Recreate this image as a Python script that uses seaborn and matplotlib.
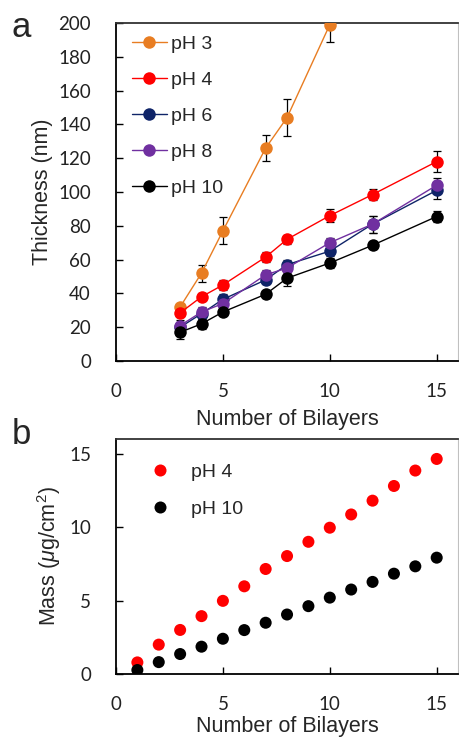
import numpy as np
import pandas as pd
import matplotlib as mpl
mpl.use("Agg")
import matplotlib.pyplot as plt
import seaborn as sns

# panel a: thickness vs bilayers
bilayers_a = [3, 4, 5, 7, 8, 10, 12, 15]
ph3 = [32, 52, 77, 126, 144, 199]
ph3_err = [2, 5, 8, 7.5, 11, 10]
ph4 = [28.5, 38, 45, 61.5, 72, 86, 98.5, 118]
ph4_err = [2, 2, 3, 3, 2.5, 4, 3.5, 6]
ph6 = [20, 28, 36.5, 48, 57, 65, 81, 101]
ph6_err = [3, 3, 3, 2.5, 2.5, 3, 5, 5]
ph8 = [21, 29, 34, 51, 55, 70, 81, 104]
ph8_err = [3, 3, 3, 3, 3, 3, 5, 4]
ph10 = [17, 22, 29, 39.5, 49, 58, 68.5, 85.5]
ph10_err = [4, 3, 2, 2, 4.5, 3, 2, 3]

series_a = {
    "pH 3": (ph3, ph3_err, "#E87D22"),
    "pH 4": (ph4, ph4_err, "#FF0000"),
    "pH 6": (ph6, ph6_err, "#0F2468"),
    "pH 8": (ph8, ph8_err, "#7030A0"),
    "pH 10": (ph10, ph10_err, "#000000"),
}

# panel b: mass vs bilayers
bilayers_b = list(range(1, 16))
mass_ph4 = [0.79, 2.0, 3.0, 3.94, 4.98, 5.97, 7.15, 8.03, 9.0, 9.96, 10.86, 11.8, 12.8, 13.85, 14.64]
mass_ph10 = [0.27, 0.81, 1.36, 1.86, 2.4, 2.99, 3.49, 4.05, 4.62, 5.2, 5.75, 6.27, 6.83, 7.33, 7.92]

rows = []
for name, (vals, errs, col) in series_a.items():
    for x, v, e in zip(bilayers_a, vals, errs):
        rows.append({"bilayers": x, "thickness": v, "err": e, "pH": name})
df_a = pd.DataFrame(rows)

df_b = pd.DataFrame({
    "bilayers": bilayers_b * 2,
    "mass": mass_ph4 + mass_ph10,
    "pH": ["pH 4"] * 15 + ["pH 10"] * 15,
})

sns.set_style("white")
plt.rcParams["font.family"] = ["Liberation Sans", "DejaVu Sans"]
plt.rcParams["mathtext.fontset"] = "custom"
plt.rcParams["mathtext.it"] = "Liberation Sans:italic"
plt.rcParams["mathtext.rm"] = "Liberation Sans"

fig = plt.figure(figsize=(4.59, 7.41), dpi=100)
ax1 = fig.add_axes([0.2527, 0.5128, 0.7453, 0.4562])
ax2 = fig.add_axes([0.2527, 0.0904, 0.7453, 0.3172])

palette = {k: v[2] for k, v in series_a.items()}
for name, (vals, errs, col) in series_a.items():
    ax1.errorbar(bilayers_a[:len(vals)], vals, yerr=errs, fmt="none",
                 ecolor="black", elinewidth=0.9, capsize=3, capthick=0.9, zorder=2)
sns.lineplot(data=df_a, x="bilayers", y="thickness", hue="pH", palette=palette,
             marker="o", markersize=9, markeredgewidth=0, linewidth=1,
             ax=ax1, zorder=3)

sns.scatterplot(data=df_b, x="bilayers", y="mass", hue="pH",
                palette={"pH 4": "#FF0000", "pH 10": "#000000"},
                s=75, edgecolor="none", ax=ax2, zorder=3)

ax1.set_ylim(0, 200)
ax1.set_yticks(range(0, 201, 20))
ax2.set_ylim(0, 16)
ax2.set_yticks([0, 5, 10, 15])

for ax in (ax1, ax2):
    ax.set_xlim(0, 16)
    ax.set_xticks([0, 5, 10, 15])
    ax.tick_params(direction="in", length=5, width=1, color="black",
                   left=True, bottom=True)
    ax.tick_params(axis="x", pad=16)
    ax.tick_params(axis="y", pad=18)
    for lab in ax.get_xticklabels() + ax.get_yticklabels():
        lab.set_fontfamily("Lato")
        lab.set_fontsize(13.5)
        lab.set_color("#222222")
    ax.spines["left"].set_color("black")
    ax.spines["bottom"].set_color("black")
    ax.spines["top"].set_color("#333333")
    ax.spines["right"].set_color("#c0c0c0")
    for s in ("left", "bottom", "top"):
        ax.spines[s].set_linewidth(1.3)

ax1.set_xlabel("Number of Bilayers", fontsize=15.5, labelpad=6)
ax2.set_xlabel("Number of Bilayers", fontsize=15.5, labelpad=2)
ax1.set_ylabel("Thickness (nm)", fontsize=15.5, labelpad=4)
ax2.set_ylabel(r"Mass ($\mu$g/cm$^2$)", fontsize=15.5, labelpad=4)

leg1 = ax1.legend(loc="upper left", bbox_to_anchor=(0.0, 1.01), frameon=False,
                  fontsize=14, handlelength=1.8, handletextpad=0.25,
                  labelspacing=0.95, borderaxespad=0.4)
leg2 = ax2.legend(loc="upper left", bbox_to_anchor=(0.02, 0.97), frameon=False,
                  fontsize=14, handletextpad=0.6, labelspacing=1.0)

fig.text(0.025, 0.963, "a", fontsize=25, va="center", ha="left")
fig.text(0.025, 0.413, "b", fontsize=25, va="center", ha="left")

fig.savefig("out.png", dpi=100)
